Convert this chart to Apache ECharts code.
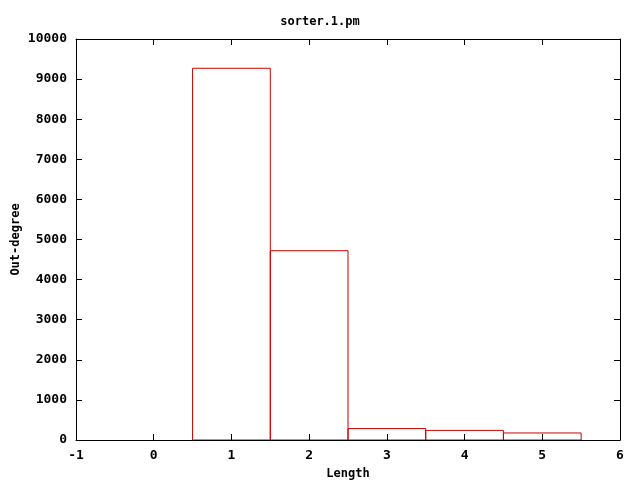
<!DOCTYPE html>
<html><head><meta charset="utf-8">
<script src="https://cdn.jsdelivr.net/npm/echarts@6/dist/echarts.min.js"></script>
<style>html,body{margin:0;padding:0;background:#fff}#c{width:640px;height:480px}</style>
</head><body><div id="c"></div>
<script>
const lengths = [1, 2, 3, 4, 5];
const outDegree = [9270, 4720, 285, 240, 175];
const titleText = 'sorter.1.pm';
const xName = 'Length';
const yName = 'Out-degree';

const font = 'DejaVu Sans Mono';
const chart = echarts.init(document.getElementById('c'));
function axisCommon() {
  return {
    z: 10,
    axisLine: {show: true, onZero: false, lineStyle: {color: '#000', width: 1}},
    axisTick: {show: true, inside: true, length: 6, lineStyle: {color: '#000'}},
    splitLine: {show: false},
    axisLabel: {color: '#000', fontFamily: font, fontWeight: 'bold', fontSize: 13, margin: 9,
      formatter: v => String(v)}
  };
}
const nameStyle = {fontFamily: font, fontWeight: 'bold', fontSize: 12, color: '#000'};
chart.setOption({
  animation: false,
  title: {text: titleText, left: 'center', top: 11, textStyle: {fontFamily: font, fontWeight: 'bold', fontSize: 12, color: '#000'}},
  grid: {left: 76, right: 20, top: 39, bottom: 40, containLabel: false, outerBoundsMode: 'none'},
  xAxis: [
    Object.assign(axisCommon(), {type: 'value', min: -1, max: 6, interval: 1, position: 'bottom',
      name: xName, nameLocation: 'middle', nameGap: 28, nameTextStyle: nameStyle}),
    Object.assign(axisCommon(), {type: 'value', min: -1, max: 6, interval: 1, position: 'top',
      axisLabel: {show: false}})
  ],
  yAxis: [
    Object.assign(axisCommon(), {type: 'value', min: 0, max: 10000, interval: 1000, position: 'left',
      name: yName, nameLocation: 'middle', nameGap: 54, nameRotate: 90, nameMoveOverlap: false,
      nameTextStyle: nameStyle}),
    Object.assign(axisCommon(), {type: 'value', min: 0, max: 10000, interval: 1000, position: 'right',
      axisLabel: {show: false}})
  ],
  series: [{
    type: 'custom',
    z: 1,
    xAxisIndex: 0, yAxisIndex: 0,
    data: lengths.map((l, i) => [l, outDegree[i]]),
    renderItem: function (params, api) {
      const x = api.value(0), v = api.value(1);
      const p0 = api.coord([x - 0.5, v]);
      const p1 = api.coord([x + 0.5, 0]);
      return {type: 'rect', shape: {x: p0[0], y: p0[1], width: p1[0] - p0[0], height: p1[1] - p0[1]},
        style: {fill: 'none', stroke: '#cc0000', lineWidth: 1}};
    }
  }]
});
</script></body></html>
